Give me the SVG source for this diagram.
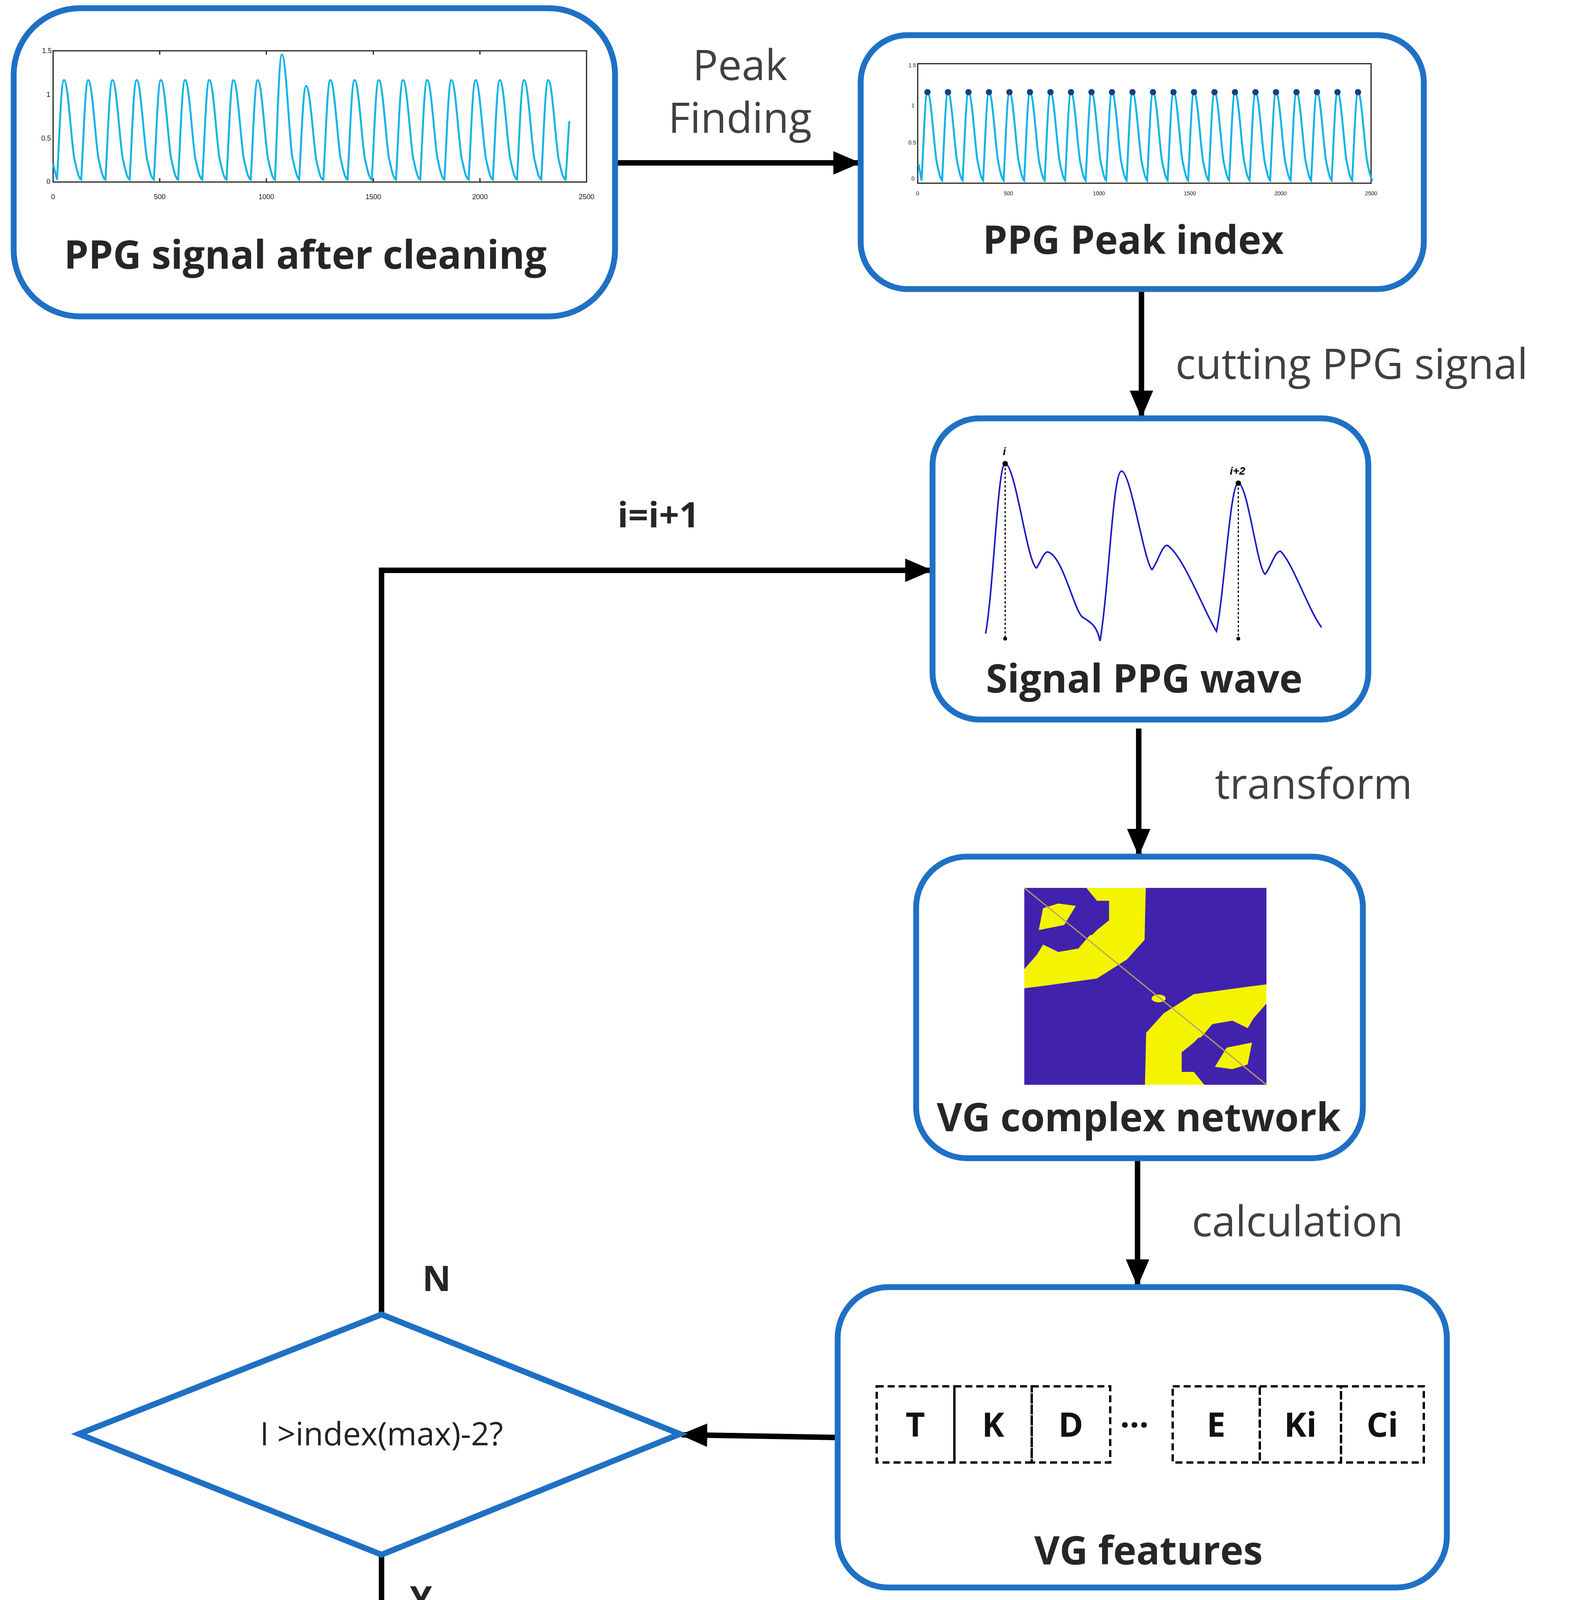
<svg xmlns="http://www.w3.org/2000/svg" width="4046" height="5464" viewBox="0 0 4046 5464">
<style>
.box{fill:#fff;stroke:#1F70C4;stroke-width:15}
.lbl{font-family:"Open Sans","Noto Sans",sans-serif;font-weight:bold;font-size:100px;fill:#262626;text-anchor:middle}
.edge{font-family:"Open Sans","Noto Sans",sans-serif;font-size:108px;fill:#404040}
.conn{fill:none;stroke:#000;stroke-width:14}
.cell{fill:none;stroke:#000;stroke-width:6;stroke-dasharray:18 10}
.ct{font-family:"Open Sans","Noto Sans",sans-serif;font-weight:bold;font-size:86px;fill:#111;text-anchor:middle}
.ax{font-family:"Liberation Sans",sans-serif;font-size:18px;fill:#222;text-anchor:middle}
.w1{fill:none;stroke:#12B4E6;stroke-width:5}
</style>
<defs>
<marker id="ah" markerUnits="userSpaceOnUse" markerWidth="70" markerHeight="60" refX="66" refY="30" orient="auto"><path d="M0,0 L70,30 L0,60 Z" fill="#000"/></marker>
</defs>

<g id="connectors">
<line class="conn" x1="1575" y1="417" x2="2200" y2="417" marker-end="url(#ah)"/>
<line class="conn" x1="2923" y1="740" x2="2923" y2="1066" marker-end="url(#ah)"/>
<line class="conn" x1="2916" y1="1865" x2="2916" y2="2188" marker-end="url(#ah)"/>
<line class="conn" x1="2913" y1="2965" x2="2913" y2="3290" marker-end="url(#ah)"/>
<line class="conn" x1="2145" y1="3680" x2="1745" y2="3673" marker-end="url(#ah)"/>
<polyline class="conn" points="977,3365 977,1460 2384,1460" marker-end="url(#ah)"/>
<line class="conn" x1="977" y1="3980" x2="977" y2="4325" marker-end="url(#ah)"/>
<text class="edge" x="1895" y="205" text-anchor="middle">Peak</text>
<text class="edge" x="1895" y="340" text-anchor="middle">Finding</text>
<text class="edge" x="3010" y="970">cutting PPG signal</text>
<text class="edge" x="3111" y="2045">transform</text>
<text class="edge" x="3052" y="3165">calculation</text>
<text class="lbl" x="1686" y="1350" style="font-size:90px">i=i+1</text>
<text class="lbl" x="1118" y="3305" style="font-size:90px">N</text>
<text class="lbl" x="1078" y="4125" style="font-size:90px">Y</text>
</g>

<g id="box1">
<rect class="box" x="35" y="21" width="1540" height="789" rx="170"/>
<rect x="136" y="130" width="1366" height="336" fill="none" stroke="#222" stroke-width="3"/>
<g stroke="#222" stroke-width="3"><line x1="409" y1="466" x2="409" y2="456"/><line x1="682" y1="466" x2="682" y2="456"/><line x1="956" y1="466" x2="956" y2="456"/><line x1="1229" y1="466" x2="1229" y2="456"/><line x1="409" y1="130" x2="409" y2="140"/><line x1="682" y1="130" x2="682" y2="140"/><line x1="956" y1="130" x2="956" y2="140"/><line x1="1229" y1="130" x2="1229" y2="140"/></g>
<text class="ax" x="120" y="136">1.5</text><text class="ax" x="124" y="248">1</text><text class="ax" x="118" y="360">0.5</text><text class="ax" x="124" y="471">0</text>
<text class="ax" x="136" y="510">0</text><text class="ax" x="409" y="510">500</text><text class="ax" x="682" y="510">1000</text><text class="ax" x="956" y="510">1500</text><text class="ax" x="1229" y="510">2000</text><text class="ax" x="1502" y="510">2500</text>
<path class="w1" d="M136,420 L146,460 c6,-100 10,-255 18,-255 c10,0 18,150 26,200 c6,25 10,50 18,55 c6,-100 10,-255 18,-255 c10,0 18,150 26,200 c6,25 10,50 18,55 c6,-100 10,-255 18,-255 c10,0 18,150 26,200 c6,25 10,50 18,55 c6,-100 10,-255 18,-255 c10,0 18,150 26,200 c6,25 10,50 18,55 c6,-100 10,-255 18,-255 c10,0 18,150 26,200 c6,25 10,50 18,55 c6,-100 10,-255 18,-255 c10,0 18,150 26,200 c6,25 10,50 18,55 c6,-100 10,-255 18,-255 c10,0 18,150 26,200 c6,25 10,50 18,55 c6,-100 10,-255 18,-255 c10,0 18,150 26,200 c6,25 10,50 18,55 c6,-100 10,-255 18,-255 c10,0 18,150 26,200 c6,25 10,50 18,55 c6,-120 10,-320 18,-320 c10,0 18,200 26,260 c6,25 10,50 18,60 c6,-100 10,-240 18,-240 c10,0 18,140 26,190 c6,25 10,50 18,50 c6,-100 10,-255 18,-255 c10,0 18,150 26,200 c6,25 10,50 18,55 c6,-100 10,-255 18,-255 c10,0 18,150 26,200 c6,25 10,50 18,55 c6,-100 10,-255 18,-255 c10,0 18,150 26,200 c6,25 10,50 18,55 c6,-100 10,-255 18,-255 c10,0 18,150 26,200 c6,25 10,50 18,55 c6,-100 10,-255 18,-255 c10,0 18,150 26,200 c6,25 10,50 18,55 c6,-100 10,-255 18,-255 c10,0 18,150 26,200 c6,25 10,50 18,55 c6,-100 10,-255 18,-255 c10,0 18,150 26,200 c6,25 10,50 18,55 c6,-100 10,-255 18,-255 c10,0 18,150 26,200 c6,25 10,50 18,55 c6,-100 10,-255 18,-255 c10,0 18,150 26,200 c6,25 10,50 18,55 c6,-100 10,-255 18,-255 c10,0 18,150 26,200 c6,25 10,50 18,55 c4,-40 7,-120 10,-150"/>
<text class="lbl" x="782" y="688">PPG signal after cleaning</text>
</g>

<g id="box2">
<rect class="box" x="2204" y="90" width="1442" height="650" rx="120"/>
<rect x="2350" y="163" width="1161" height="306" fill="none" stroke="#222" stroke-width="3"/>
<text class="ax" x="2336" y="172" style="font-size:14px">1.5</text><text class="ax" x="2338" y="275" style="font-size:14px">1</text><text class="ax" x="2336" y="370" style="font-size:14px">0.5</text><text class="ax" x="2338" y="462" style="font-size:14px">0</text>
<text class="ax" x="2350" y="500" style="font-size:14px">0</text><text class="ax" x="2582" y="500" style="font-size:14px">500</text><text class="ax" x="2814" y="500" style="font-size:14px">1000</text><text class="ax" x="3047" y="500" style="font-size:14px">1500</text><text class="ax" x="3279" y="500" style="font-size:14px">2000</text><text class="ax" x="3511" y="500" style="font-size:14px">2500</text>
<path class="w1" stroke-width="4" d="M2352,420 L2360,462 c5,-90 9,-226 15,-226 c9,0 16,130 23,175 c5,25 9,45 14.5,51 c5,-90 9,-226 15,-226 c9,0 16,130 23,175 c5,25 9,45 14.5,51 c5,-90 9,-226 15,-226 c9,0 16,130 23,175 c5,25 9,45 14.5,51 c5,-90 9,-226 15,-226 c9,0 16,130 23,175 c5,25 9,45 14.5,51 c5,-90 9,-226 15,-226 c9,0 16,130 23,175 c5,25 9,45 14.5,51 c5,-90 9,-226 15,-226 c9,0 16,130 23,175 c5,25 9,45 14.5,51 c5,-90 9,-226 15,-226 c9,0 16,130 23,175 c5,25 9,45 14.5,51 c5,-90 9,-226 15,-226 c9,0 16,130 23,175 c5,25 9,45 14.5,51 c5,-90 9,-226 15,-226 c9,0 16,130 23,175 c5,25 9,45 14.5,51 c5,-90 9,-226 15,-226 c9,0 16,130 23,175 c5,25 9,45 14.5,51 c5,-90 9,-226 15,-226 c9,0 16,130 23,175 c5,25 9,45 14.5,51 c5,-90 9,-226 15,-226 c9,0 16,130 23,175 c5,25 9,45 14.5,51 c5,-90 9,-226 15,-226 c9,0 16,130 23,175 c5,25 9,45 14.5,51 c5,-90 9,-226 15,-226 c9,0 16,130 23,175 c5,25 9,45 14.5,51 c5,-90 9,-226 15,-226 c9,0 16,130 23,175 c5,25 9,45 14.5,51 c5,-90 9,-226 15,-226 c9,0 16,130 23,175 c5,25 9,45 14.5,51 c5,-90 9,-226 15,-226 c9,0 16,130 23,175 c5,25 9,45 14.5,51 c5,-90 9,-226 15,-226 c9,0 16,130 23,175 c5,25 9,45 14.5,51 c5,-90 9,-226 15,-226 c9,0 16,130 23,175 c5,25 9,45 14.5,51 c5,-90 9,-226 15,-226 c9,0 16,130 23,175 c5,25 9,45 14.5,51 c5,-90 9,-226 15,-226 c9,0 16,130 23,175 c5,25 9,45 14.5,51 c5,-90 9,-226 15,-226 c9,0 16,130 23,175 c5,25 9,45 14.5,51"/>
<g fill="#1A3F7A"><circle cx="2375" cy="236" r="8"/><circle cx="2427.5" cy="236" r="8"/><circle cx="2480" cy="236" r="8"/><circle cx="2532.5" cy="236" r="8"/><circle cx="2585" cy="236" r="8"/><circle cx="2637.5" cy="236" r="8"/><circle cx="2690" cy="236" r="8"/><circle cx="2742.5" cy="236" r="8"/><circle cx="2795" cy="236" r="8"/><circle cx="2847.5" cy="236" r="8"/><circle cx="2900" cy="236" r="8"/><circle cx="2952.5" cy="236" r="8"/><circle cx="3005" cy="236" r="8"/><circle cx="3057.5" cy="236" r="8"/><circle cx="3110" cy="236" r="8"/><circle cx="3162.5" cy="236" r="8"/><circle cx="3215" cy="236" r="8"/><circle cx="3267.5" cy="236" r="8"/><circle cx="3320" cy="236" r="8"/><circle cx="3372.5" cy="236" r="8"/><circle cx="3425" cy="236" r="8"/><circle cx="3477.5" cy="236" r="8"/></g>
<text class="lbl" x="2902" y="650">PPG Peak index</text>
</g>

<g id="box3">
<rect class="box" x="2388" y="1071" width="1116" height="771" rx="120"/>
<path fill="none" stroke="#1A1AC8" stroke-width="4" d="M2524,1622 C2545,1500 2555,1187 2574,1187 C2600,1187 2630,1440 2654,1454 C2665,1440 2672,1413 2683,1413 C2720,1420 2750,1560 2771,1579 C2795,1595 2808,1600 2817,1641 C2840,1500 2850,1206 2872,1206 C2895,1206 2930,1440 2950,1458 C2965,1440 2975,1396 2989,1396 C3030,1420 3090,1580 3115,1616 C3135,1520 3150,1237 3171,1237 C3195,1237 3220,1460 3240,1470 C3255,1450 3265,1411 3279,1411 C3310,1440 3350,1560 3384,1606"/>
<g stroke="#000" stroke-width="3" stroke-dasharray="6 5"><line x1="2574" y1="1187" x2="2574" y2="1635"/><line x1="3171" y1="1237" x2="3171" y2="1635"/></g>
<g fill="#000"><circle cx="2574" cy="1187" r="7"/><circle cx="2574" cy="1635" r="5"/><circle cx="3171" cy="1237" r="7"/><circle cx="3171" cy="1635" r="5"/></g>
<text x="2572" y="1165" style="font-family:'Liberation Sans',sans-serif;font-weight:bold;font-style:italic;font-size:28px" text-anchor="middle">i</text>
<text x="3169" y="1215" style="font-family:'Liberation Sans',sans-serif;font-weight:bold;font-style:italic;font-size:28px" text-anchor="middle">i+2</text>
<text class="lbl" x="2930" y="1773">Signal PPG wave</text>
</g>

<g id="box4">
<rect class="box" x="2346" y="2193" width="1144" height="772" rx="130"/>
<rect x="2623" y="2273" width="620" height="504" fill="#4122AD"/>
<g id="blobs" fill="#F4F400">
<polygon points="2623,2481 2656,2443 2671,2418 2710,2437 2763,2428 2809,2381 2840,2356 2840,2306 2809,2306 2782,2273 2934,2273 2931,2406 2886,2456 2809,2505 2671,2524 2623,2530"/>
<polygon points="2660,2381 2671,2325 2710,2313 2755,2319 2725,2368"/>
<polygon points="2759,2431 2790,2395 2825,2385 2835,2420 2790,2432"/>
</g>
<use href="#blobs" transform="rotate(180 2933 2525)"/>
<ellipse cx="2967" cy="2556" rx="18" ry="10" fill="#F4F400"/>
<line x1="2623" y1="2273" x2="3243" y2="2777" stroke="#B8A060" stroke-width="3"/>
<text class="lbl" x="2916" y="2896">VG complex network</text>
</g>

<g id="box5">
<rect class="box" x="2145" y="3295" width="1560" height="769" rx="130"/>
<rect class="cell" x="2245" y="3549" width="199" height="195"/><rect class="cell" x="2444" y="3549" width="198" height="195"/><rect class="cell" x="2642" y="3549" width="201" height="195"/>
<rect class="cell" x="3003" y="3549" width="223" height="195"/><rect class="cell" x="3226" y="3549" width="208" height="195"/><rect class="cell" x="3434" y="3549" width="212" height="195"/>
<text class="ct" x="2344" y="3678">T</text><text class="ct" x="2543" y="3678">K</text><text class="ct" x="2742" y="3678">D</text><text class="ct" x="2905" y="3678">···</text><text class="ct" x="3114" y="3678">E</text><text class="ct" x="3330" y="3678">Ki</text><text class="ct" x="3540" y="3678">Ci</text>
<text class="lbl" x="2941" y="4005">VG features</text>
</g>

<g id="decision">
<polygon points="202,3671 977,3365 1741,3671 977,3980" fill="#fff" stroke="#1F70C4" stroke-width="15"/>
<text x="977" y="3700" text-anchor="middle" style="font-family:'Open Sans','Noto Sans',sans-serif;font-size:82px;fill:#222">I &gt;index(max)-2?</text>
</g>

<g id="box6">
<rect class="box" x="160" y="4335" width="1536" height="1060" rx="160"/>
<rect class="cell" x="240" y="4501" width="198" height="192"/><rect class="cell" x="438" y="4501" width="198" height="192"/><rect class="cell" x="636" y="4501" width="198" height="192"/>
<rect class="cell" x="998" y="4501" width="215" height="192"/><rect class="cell" x="1213" y="4501" width="216" height="192"/><rect class="cell" x="1429" y="4501" width="212" height="192"/>
<text class="ct" x="339" y="4628">T</text><text class="ct" x="537" y="4628">K</text><text class="ct" x="735" y="4628">D</text><text class="ct" x="900" y="4628">···</text><text class="ct" x="1105" y="4628">E</text><text class="ct" x="1321" y="4628">Ki</text><text class="ct" x="1535" y="4628">Ci</text>
<text class="ct" x="897" y="4860">···</text>
<rect class="cell" x="240" y="4946" width="198" height="191"/><rect class="cell" x="438" y="4946" width="198" height="191"/><rect class="cell" x="636" y="4946" width="198" height="191"/>
<rect class="cell" x="998" y="4946" width="215" height="191"/><rect class="cell" x="1213" y="4946" width="216" height="191"/><rect class="cell" x="1429" y="4946" width="212" height="191"/>
<text class="ct" x="339" y="5073">T</text><text class="ct" x="537" y="5073">K</text><text class="ct" x="735" y="5073">D</text><text class="ct" x="900" y="5073">···</text><text class="ct" x="1105" y="5073">E</text><text class="ct" x="1321" y="5073">Ki</text><text class="ct" x="1535" y="5073">Ci</text>
<text class="lbl" x="911" y="5330">Output feature table</text>
</g>
</svg>
